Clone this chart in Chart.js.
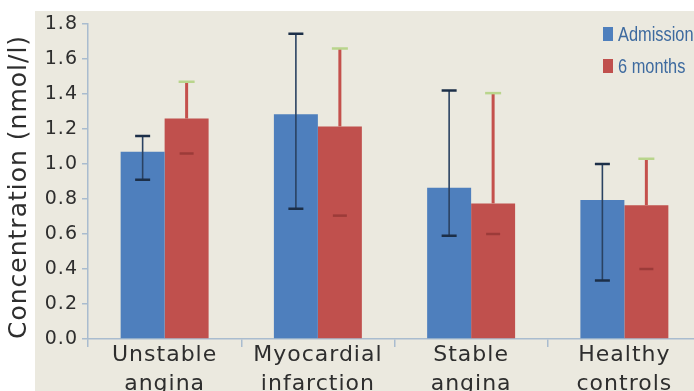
<!DOCTYPE html>
<html>
<head>
<meta charset="utf-8">
<script src="https://cdn.jsdelivr.net/npm/chart.js@4.4.1/dist/chart.umd.min.js"></script>
<style>
html, body { margin: 0; padding: 0; background: #fff; overflow: hidden; }
#wrap { width: 694px; height: 391px; overflow: hidden; }
</style>
</head>
<body>
<div id="wrap"><canvas id="conc" width="702" height="391"></canvas></div>
<script>
const categories = [["Unstable", "angina"], ["Myocardial", "infarction"], ["Stable", "angina"], ["Healthy", "controls"]]

// admission (blue) with error bar ends
const admission = [1.07, 1.285, 0.865, 0.795]
const admissionLow = [0.91, 0.745, 0.59, 0.335]
const admissionHigh = [1.16, 1.745, 1.42, 1.0]

// 6 months (red)
const sixMonths = [1.26, 1.215, 0.775, 0.765]
const sixMonthsLow = [1.06, 0.705, 0.6, 0.4]
const sixMonthsHigh = [1.47, 1.66, 1.405, 1.03]

const yMin = 0
const yMax = 1.8
const yStep = 0.2

Chart.defaults.font.family = "'DejaVu Sans', sans-serif"
Chart.defaults.color = "#2e2e2e"

const spacing = {
	id: "spacing",
	beforeLayout(chart) { chart.ctx.letterSpacing = "1px" },
	beforeDraw(chart) { chart.ctx.letterSpacing = "1px" }
}

const backdrop = {
	id: "backdrop",
	beforeDraw(chart) {
		const ctx = chart.ctx
		ctx.save()
		ctx.fillStyle = "#ffffff"
		ctx.fillRect(0, 0, chart.width, chart.height)
		ctx.fillStyle = "#ebe9df"
		ctx.fillRect(35, 11, chart.width - 35, chart.height - 11)
		ctx.restore()
	}
}

const errorBars = {
	id: "errorBars",
	afterDatasetsDraw(chart) {
		const ctx = chart.ctx
		const y = chart.scales.y
		ctx.save()
		chart.data.datasets.forEach((ds, i) => {
			const meta = chart.getDatasetMeta(i)
			meta.data.forEach((bar, j) => {
				const x = bar.x
				const hi = y.getPixelForValue(ds.errHigh[j])
				const lo = y.getPixelForValue(ds.errLow[j])
				if (i === 0) {
					ctx.strokeStyle = "#2a4262"
					ctx.lineWidth = 1.6
					ctx.beginPath()
					ctx.moveTo(x, lo)
					ctx.lineTo(x, hi)
					ctx.stroke()
					ctx.strokeStyle = "#1c2f48"
					ctx.lineWidth = 2.5
					ctx.beginPath()
					ctx.moveTo(x - 7.5, hi)
					ctx.lineTo(x + 7.5, hi)
					ctx.moveTo(x - 7.5, lo)
					ctx.lineTo(x + 7.5, lo)
					ctx.stroke()
				} else {
					ctx.strokeStyle = "#c4504c"
					ctx.lineWidth = 3
					ctx.beginPath()
					ctx.moveTo(x, bar.y)
					ctx.lineTo(x, hi)
					ctx.stroke()
					ctx.strokeStyle = "#b9d58c"
					ctx.lineWidth = 2.5
					ctx.beginPath()
					ctx.moveTo(x - 8, hi)
					ctx.lineTo(x + 8, hi)
					ctx.stroke()
					ctx.strokeStyle = "#9c3b39"
					ctx.beginPath()
					ctx.moveTo(x - 7, lo)
					ctx.lineTo(x + 7, lo)
					ctx.stroke()
				}
			})
		})
		ctx.restore()
	}
}

// legend drawn by hand, condensed like the original
const keyBox = {
	id: "keyBox",
	afterDraw(chart) {
		const ctx = chart.ctx
		ctx.save()
		ctx.letterSpacing = "0px"
		chart.data.datasets.forEach((ds, i) => {
			const top = 27 + i * 32
			ctx.fillStyle = ds.backgroundColor
			ctx.fillRect(603, top, 10, 14)
			ctx.save()
			ctx.translate(618, top + 14)
			ctx.scale(0.78, 1)
			ctx.font = "21px 'Liberation Sans', Arial, sans-serif"
			ctx.textBaseline = "alphabetic"
			ctx.fillStyle = "#3d6a9f"
			ctx.fillText(ds.label, 0, 0)
			ctx.restore()
		})
		ctx.restore()
	}
}

new Chart(document.getElementById("conc"), {
	type: "bar",
	data: {
		labels: categories,
		datasets: [{
			label: "Admission",
			data: admission,
			errLow: admissionLow,
			errHigh: admissionHigh,
			backgroundColor: "#4e7fbd",
			categoryPercentage: 0.574,
			barPercentage: 1.0
		}, {
			label: "6 months",
			data: sixMonths,
			errLow: sixMonthsLow,
			errHigh: sixMonthsHigh,
			backgroundColor: "#c0504d",
			categoryPercentage: 0.574,
			barPercentage: 1.0
		}]
	},
	options: {
		responsive: false,
		animation: false,
		layout: { padding: { top: 24, right: 1, left: 0, bottom: 0 } },
		plugins: {
			legend: { display: false },
			tooltip: { enabled: false }
		},
		scales: {
			x: {
				afterFit(scale) { scale.height = 52 },
				grid: {
					offset: true,
					drawOnChartArea: false,
					drawTicks: true,
					tickLength: 8,
					color: "#a9bccf",
					lineWidth: 1.5
				},
				border: { color: "#a9bccf", width: 1.5 },
				ticks: {
					font: { size: 22, lineHeight: 1.3 },
					color: "#2e2e2e",
					padding: -6,
					maxRotation: 0,
					autoSkip: false
				}
			},
			y: {
				min: yMin,
				max: yMax,
				afterFit(scale) { scale.width = 88 },
				grid: {
					drawOnChartArea: false,
					tickLength: 6,
					color: "#a9bccf",
					lineWidth: 1.5
				},
				border: { color: "#a9bccf", width: 1.5 },
				ticks: {
					stepSize: yStep,
					font: { size: 19 },
					color: "#2e2e2e",
					padding: 4,
					callback: v => v.toFixed(1)
				},
				title: {
					display: true,
					text: "Concentration (nmol/l)",
					align: "start",
					font: { size: 25 },
					color: "#2e2e2e",
					padding: { top: 4, bottom: 0 }
				}
			}
		}
	},
	plugins: [spacing, backdrop, errorBars, keyBox]
})
</script>
</body>
</html>
